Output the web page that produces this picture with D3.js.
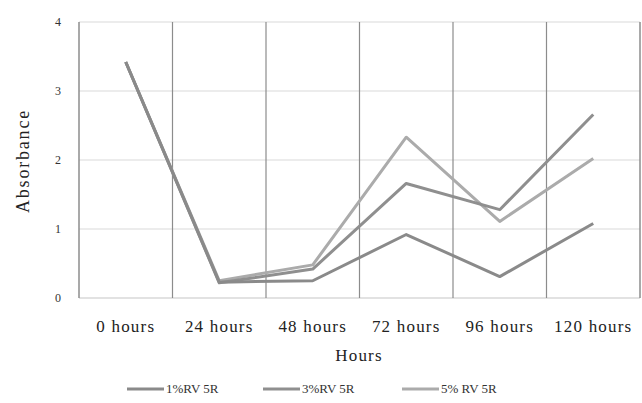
<!DOCTYPE html>
<html><head><meta charset="utf-8">
<script src="https://cdn.jsdelivr.net/npm/d3@7"></script>
<style>body{margin:0;background:#fff}svg{display:block}</style>
</head><body><svg id="c" width="642" height="403" font-family="'Liberation Serif', 'Times New Roman', Tinos, 'DejaVu Serif', serif"></svg>
<script>
const categories = ["0 hours","24 hours","48 hours","72 hours","96 hours","120 hours"];
const yTicks = [0,1,2,3,4];
const seriesNames = ["1%RV 5R","3%RV 5R","5% RV 5R"];
const s1 = [3.42,0.23,0.25,0.92,0.31,1.08];
const s3 = [3.42,0.22,0.42,1.66,1.28,2.66];
const s5 = [3.42,0.25,0.48,2.33,1.11,2.02];
const seriesColors = ["#8a8a8a","#8f8f8f","#ababab"];

const svg = d3.select("#c");
const m = {l:79, r:640, t:22, b:298};
const x = d3.scaleBand().domain(categories).range([m.l, m.r]);
const y = d3.scaleLinear().domain([0,4]).range([m.b, m.t]);

svg.append("g").selectAll("line").data(yTicks.filter(d=>d>0)).join("line")
  .attr("x1", m.l).attr("x2", m.r).attr("y1", d=>y(d)).attr("y2", d=>y(d))
  .attr("stroke", "#d9d9d9").attr("stroke-width", 1);
svg.append("line").attr("x1", m.l).attr("x2", m.r).attr("y1", y(0)).attr("y2", y(0))
  .attr("stroke", "#d9d9d9").attr("stroke-width", 1.5);
const bounds = categories.map(c=>x(c)).concat([m.r]);
svg.append("g").selectAll("line").data(bounds).join("line")
  .attr("x1", d=>d).attr("x2", d=>d).attr("y1", m.t).attr("y2", m.b)
  .attr("stroke", "#8c8c8c").attr("stroke-width", (d,i)=> i===0||i===bounds.length-1 ? 1.5 : 1.2);

svg.append("g").selectAll("text").data(yTicks).join("text")
  .attr("x", 58).attr("y", d=>y(d)).attr("dy", "0.35em").attr("text-anchor", "middle")
  .attr("font-size", 12).attr("fill", "#333").text(d=>d);

svg.append("g").selectAll("text").data(categories).join("text")
  .attr("x", d=>x(d)+x.bandwidth()/2).attr("y", 332).attr("text-anchor", "middle")
  .attr("font-size", 17).attr("letter-spacing", 1.2).attr("fill", "#222").text(d=>d);

svg.append("text").attr("x", 359).attr("y", 361).attr("text-anchor", "middle")
  .attr("font-size", 17).attr("letter-spacing", 1.2).attr("fill", "#222").text("Hours");
svg.append("text").attr("transform", "translate(29,161) rotate(-90)").attr("text-anchor", "middle")
  .attr("font-size", 18).attr("letter-spacing", 1.8).attr("fill", "#222").text("Absorbance");

const line = d3.line().x((d,i)=>x(categories[i])+x.bandwidth()/2).y(d=>y(d));
const all = [s1,s3,s5];
[2,1,0].forEach(k=>{
  svg.append("path").attr("d", line(all[k])).attr("fill","none")
    .attr("stroke", seriesColors[k]).attr("stroke-width", 3).attr("stroke-linejoin","round");
});

const legX = [127, 263, 402];
seriesNames.forEach((n,i)=>{
  svg.append("line").attr("x1", legX[i]).attr("x2", legX[i]+37).attr("y1", 389).attr("y2", 389)
    .attr("stroke", seriesColors[i]).attr("stroke-width", 3);
  svg.append("text").attr("x", legX[i]+39).attr("y", 393).attr("font-size", 13).attr("fill","#333").text(n);
});
</script></body></html>
